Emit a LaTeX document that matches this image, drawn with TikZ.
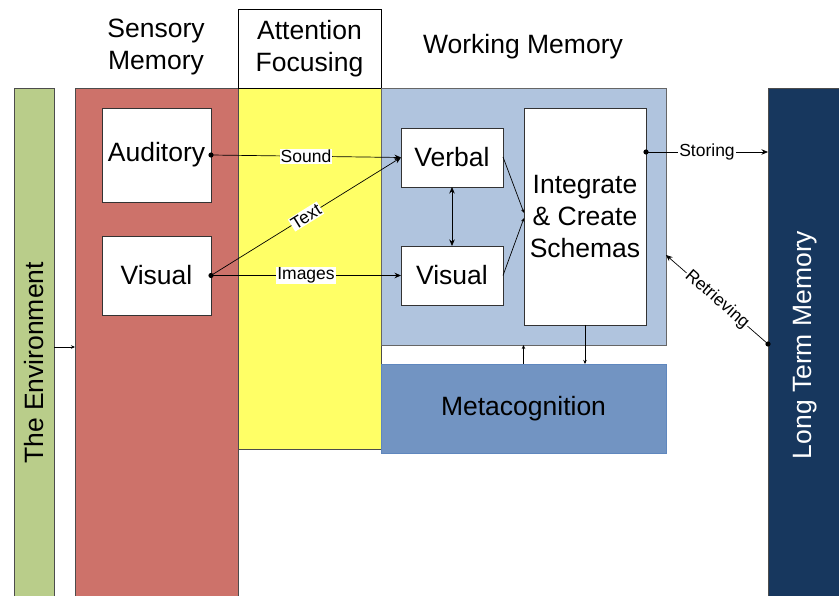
\documentclass[tikz,border=0pt]{standalone}
\usepackage{fontspec}
\setmainfont{Liberation Sans}
\usetikzlibrary{arrows.meta}
\definecolor{envgreen}{RGB}{185,205,138}
\definecolor{sensred}{RGB}{205,114,106}
\definecolor{attyellow}{RGB}{255,255,102}
\definecolor{wmblue}{RGB}{176,196,222}
\definecolor{metablue}{RGB}{114,148,194}
\definecolor{metaborder}{RGB}{95,135,190}
\definecolor{ltmblue}{RGB}{23,55,94}
\begin{document}
\begin{tikzpicture}[x=1pt,y=-1pt,
  panel/.style={draw=black!70, line width=0.8pt, inner sep=0pt, outer sep=0pt},
  big/.style={font=\fontsize{26.5}{32}\selectfont, align=center},
  wbox/.style={panel, fill=white, draw=black!80, big},
  lbl/.style={font=\fontsize{17.5}{20}\selectfont, fill=white, inner sep=1pt},
  conn/.style={line width=0.7pt, -{Stealth[length=6.5pt,width=5.5pt]}},
  sconn/.style={line width=0.7pt, -{Stealth[length=4pt,width=3.5pt]}},
  dconn/.style={line width=0.7pt, {Stealth[length=6.5pt,width=5.5pt]}-{Stealth[length=6.5pt,width=5.5pt]}},
  dot/.style={fill=black}]
\clip (0,0) rectangle (839,596);
\fill[white] (0,0) rectangle (839,596);
% panels
\node[panel, fill=envgreen, minimum width=40pt, minimum height=512pt] (env) at (34,344) {};
\node[big, rotate=90] (envt) at (34,363) {The Environment};
\node[panel, fill=sensred, minimum width=163pt, minimum height=512pt] (sens) at (156.5,344) {};
\node[big] (senst) at (156,47) {Sensory\\Memory};
\node[panel, fill=attyellow, minimum width=143pt, minimum height=361pt] (att) at (309.5,268.5) {};
\node[panel, fill=white, draw=black, minimum width=143pt, minimum height=79pt, big] (atth) at (309.5,48.5) {Attention\\Focusing};
\node[panel, fill=wmblue, draw=black!60, minimum width=285pt, minimum height=257pt] (wm) at (523.5,216.5) {};
\node[big] (wmt) at (523,47) {Working Memory};
\node[panel, fill=metablue, draw=metaborder, minimum width=285pt, minimum height=89pt, big] (meta) at (523.5,408.5) {Metacognition};
\node[panel, fill=ltmblue, draw=black!70, minimum width=74pt, minimum height=512pt] (ltm) at (805,344) {};
\node[big, rotate=90, text=white] (ltmt) at (805,345) {Long Term Memory};
% inner boxes
\node[wbox, minimum width=109pt, minimum height=94pt] (aud) at (156.5,155) {Auditory};
\node[wbox, minimum width=109pt, minimum height=79pt] (vis) at (156.5,275.5) {Visual};
\node[wbox, minimum width=102pt, minimum height=59pt] (verb) at (452,157.5) {Verbal};
\node[wbox, minimum width=102pt, minimum height=59pt] (visw) at (452,275.5) {Visual};
\node[wbox, minimum width=122pt, minimum height=217pt] (integ) at (585,216.5) {Integrate\\\& Create\\Schemas};
% connectors
\draw[sconn] ([yshift=-3pt]env.east) -- ([yshift=-3pt]env.east -| sens.west);
\draw[conn] (aud.east) -- node[lbl] {Sound} (verb.west);
\draw[conn] (vis.east) -- node[lbl, sloped] {Text} (verb.west);
\draw[conn] (vis.east) -- node[lbl] {Images} (visw.west);
\fill[dot] (aud.east) circle (2.6);
\fill[dot] (vis.east) circle (2.6);
\draw[dconn] (verb.south) -- (visw.north);
\draw[sconn] ([yshift=0.5pt]verb.east) -- ([yshift=3.5pt]integ.west);
\draw[sconn] (visw.east) -- ([yshift=-1.5pt]integ.west);
\coordinate (st) at ([yshift=64.5pt]integ.east);
\draw[conn] (st) -- node[lbl] {Storing} (st -| ltm.west);
\fill[dot] (st) circle (2.6);
\draw[conn] (ltm.west) -- node[lbl, sloped] {Retrieving} ([yshift=-38.5pt]wm.east);
\fill[dot] (ltm.west) circle (2.6);
\draw[sconn] (meta.north) -- (wm.south);
\draw[sconn] (integ.south) -- (integ.south |- meta.north);
\end{tikzpicture}
\end{document}
